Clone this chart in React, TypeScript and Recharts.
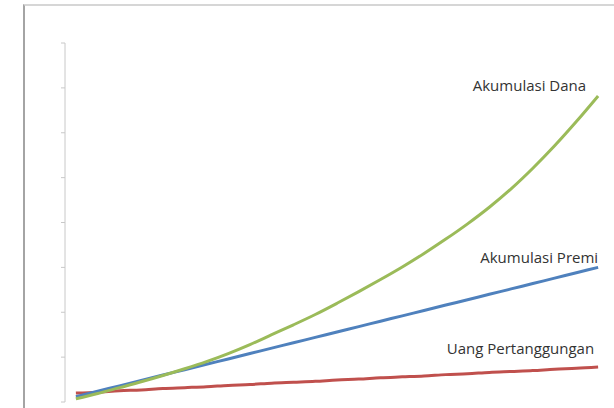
import { LineChart, Line, XAxis, YAxis, LabelList } from "recharts";

// 25 periods (years)
const years = [
  1, 2, 3, 4, 5, 6, 7, 8, 9, 10, 11, 12, 13, 14, 15, 16, 17, 18, 19, 20, 21,
  22, 23, 24, 25,
];
const akumulasiDana = [
  0.07, 0.19, 0.32, 0.45, 0.59, 0.74, 0.9, 1.08, 1.28, 1.5, 1.72, 1.95, 2.2,
  2.46, 2.73, 3.01, 3.31, 3.63, 3.97, 4.34, 4.75, 5.21, 5.71, 6.25, 6.82,
];
const akumulasiPremi = [
  0.12, 0.24, 0.36, 0.48, 0.6, 0.72, 0.84, 0.96, 1.08, 1.2, 1.32, 1.44, 1.56,
  1.68, 1.8, 1.92, 2.04, 2.16, 2.28, 2.4, 2.52, 2.64, 2.76, 2.88, 3.0,
];
const uangPertanggungan = [
  0.2, 0.22, 0.25, 0.27, 0.3, 0.32, 0.34, 0.37, 0.39, 0.42, 0.44, 0.46, 0.49,
  0.51, 0.54, 0.56, 0.58, 0.61, 0.63, 0.66, 0.68, 0.7, 0.73, 0.75, 0.78,
];
const yTicks = [0, 1, 2, 3, 4, 5, 6, 7, 8];
const xTicks = [
  0.5, 1.5, 2.5, 3.5, 4.5, 5.5, 6.5, 7.5, 8.5, 9.5, 10.5, 11.5, 12.5, 13.5,
  14.5, 15.5, 16.5, 17.5, 18.5, 19.5, 20.5, 21.5, 22.5, 23.5, 24.5, 25.5,
];

const data = years.map((year, i) => ({
  year,
  dana: akumulasiDana[i],
  premi: akumulasiPremi[i],
  up: uangPertanggungan[i],
}));

const endLabel =
  (text: string, dx: number, dy: number) =>
  (props: any) => {
    if (props.index !== data.length - 1) return null;
    return (
      <text
        x={Number(props.x) + dx}
        y={Number(props.y) + dy}
        textAnchor="end"
        dominantBaseline="central"
        fontFamily="'Open Sans', sans-serif"
        fontSize={15}
        fill="#333"
      >
        {text}
      </text>
    );
  };

export default function App() {
  return (
    <div
      style={{
        position: "absolute",
        left: 0,
        top: 0,
        width: 614,
        height: 408,
        overflow: "hidden",
        background: "#fff",
      }}
    >
      <div
        style={{
          position: "absolute",
          left: 23,
          top: 4,
          width: 700,
          height: 500,
          borderLeft: "2px solid #a4a4a4",
          borderTop: "2px solid #d6d6d6",
        }}
      />
      <div style={{ position: "absolute", left: 0, top: 0 }}>
        <LineChart
          width={614}
          height={408}
          data={data}
          margin={{ top: 43, right: 5, left: 5, bottom: 6 }}
        >
          <XAxis
            dataKey="year"
            type="number"
            domain={[0.5, 25.5]}
            ticks={xTicks}
            tickFormatter={() => ""}
            tickSize={4}
            height={0}
            stroke="#b8b8b8"
            strokeWidth={2}
          />
          <YAxis
            type="number"
            domain={[0, 8]}
            ticks={yTicks}
            tickFormatter={() => ""}
            tickSize={4}
            width={60}
            stroke="#c8c8c8"
          />
          <Line
            type="monotone"
            dataKey="up"
            stroke="#c0504d"
            strokeWidth={3}
            dot={false}
            isAnimationActive={false}
          >
            <LabelList content={endLabel("Uang Pertanggungan", -4, -19)} />
          </Line>
          <Line
            type="monotone"
            dataKey="premi"
            stroke="#4f81bd"
            strokeWidth={3}
            dot={false}
            isAnimationActive={false}
          >
            <LabelList content={endLabel("Akumulasi Premi", 0, -10)} />
          </Line>
          <Line
            type="monotone"
            dataKey="dana"
            stroke="#9bbb59"
            strokeWidth={3}
            dot={false}
            isAnimationActive={false}
          >
            <LabelList content={endLabel("Akumulasi Dana", -12, -11)} />
          </Line>
        </LineChart>
      </div>
    </div>
  );
}
